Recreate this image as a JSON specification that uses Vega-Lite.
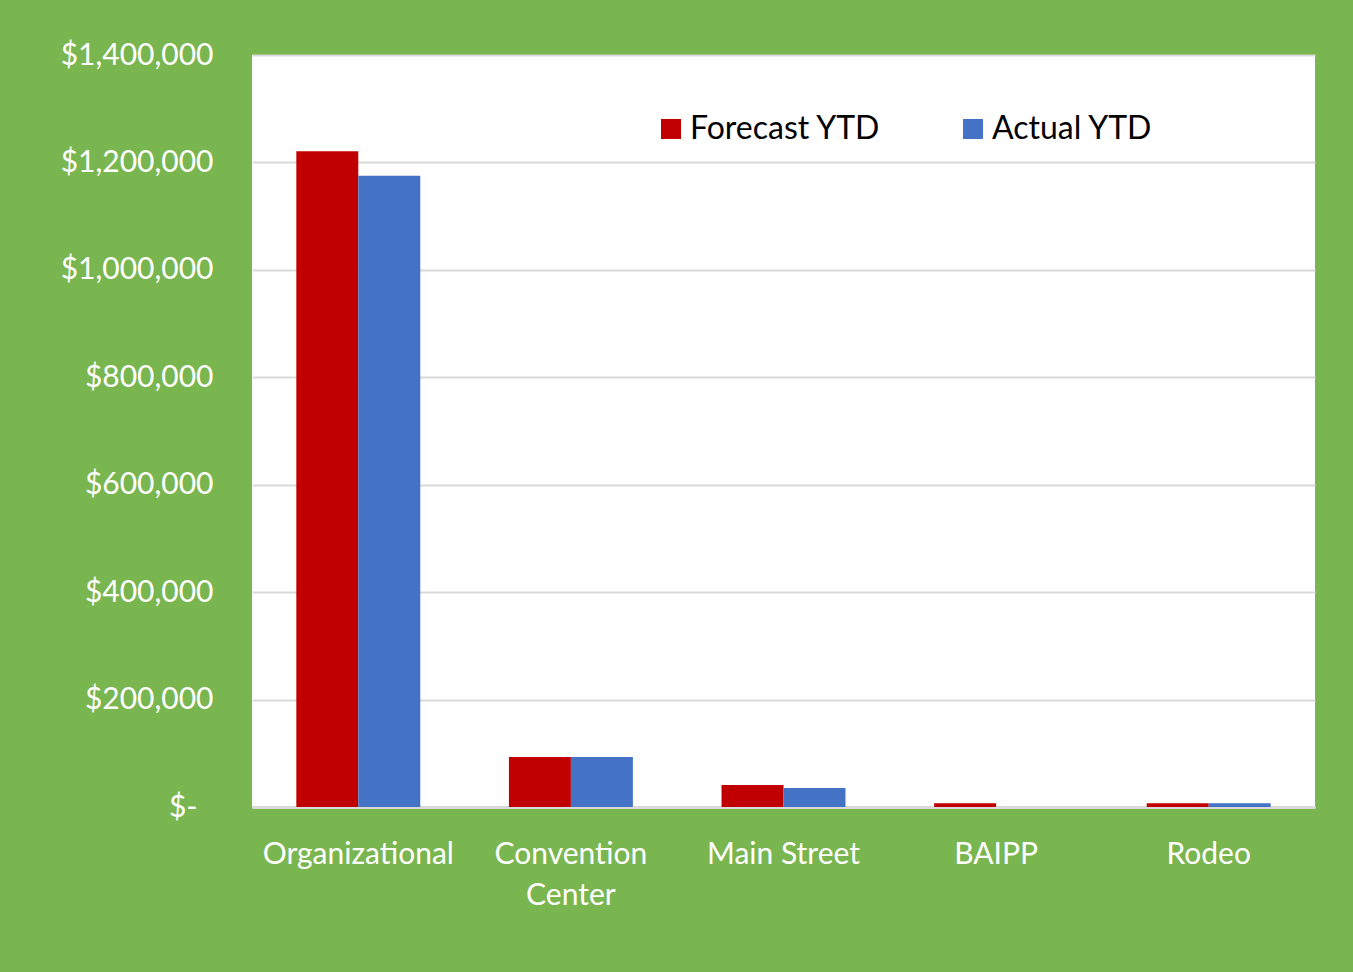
{
  "$schema": "https://vega.github.io/schema/vega-lite/v6.json",
  "width": 1063,
  "height": 752,
  "autosize": {"type": "none"},
  "padding": {"left": 252, "top": 55, "right": 38, "bottom": 165},
  "background": "#7AB64F",
  "config": {
    "view": {"fill": "white", "stroke": null},
    "font": "Lato"
  },
  "data": {
    "values": [
      {"category": "Organizational", "series": "Forecast YTD", "value": 1221000},
      {"category": "Organizational", "series": "Actual YTD", "value": 1175000},
      {"category": "Convention Center", "series": "Forecast YTD", "value": 93000},
      {"category": "Convention Center", "series": "Actual YTD", "value": 93000},
      {"category": "Main Street", "series": "Forecast YTD", "value": 41000},
      {"category": "Main Street", "series": "Actual YTD", "value": 35500},
      {"category": "BAIPP", "series": "Forecast YTD", "value": 7000},
      {"category": "BAIPP", "series": "Actual YTD", "value": 0},
      {"category": "Rodeo", "series": "Forecast YTD", "value": 7000},
      {"category": "Rodeo", "series": "Actual YTD", "value": 7000}
    ]
  },
  "mark": {"type": "bar"},
  "encoding": {
    "x": {
      "field": "category",
      "type": "nominal",
      "sort": ["Organizational", "Convention Center", "Main Street", "BAIPP", "Rodeo"],
      "scale": {"paddingInner": 0.417, "paddingOuter": 0.2085},
      "axis": {
        "title": null,
        "labelAngle": 0,
        "labelColor": "white",
        "labelFontSize": 30,
        "labelPadding": 32,
        "labelLineHeight": 41,
        "labelLimit": 400,
        "labelExpr": "datum.label == 'Convention Center' ? ['Convention', 'Center'] : datum.label",
        "ticks": false,
        "domain": true,
        "domainColor": "#D9D9D9",
        "domainWidth": 3
      }
    },
    "xOffset": {
      "field": "series",
      "sort": ["Forecast YTD", "Actual YTD"],
      "scale": {"paddingInner": 0, "paddingOuter": 0}
    },
    "y": {
      "field": "value",
      "type": "quantitative",
      "scale": {"domain": [0, 1400000], "nice": false},
      "axis": {
        "title": null,
        "values": [0, 200000, 400000, 600000, 800000, 1000000, 1200000, 1400000],
        "grid": true,
        "gridColor": "#D9D9D9",
        "gridWidth": 2,
        "domain": false,
        "ticks": false,
        "labelColor": "white",
        "labelFontSize": 30,
        "labelPadding": {"condition": {"test": "datum.value == 0", "value": 55}, "value": 39},
        "labelExpr": "datum.value == 0 ? '$-' : '$' + format(datum.value, ',')"
      }
    },
    "color": {
      "field": "series",
      "type": "nominal",
      "sort": ["Forecast YTD", "Actual YTD"],
      "scale": {"domain": ["Forecast YTD", "Actual YTD"], "range": ["#C00000", "#4472C4"]},
      "legend": {
        "title": null,
        "orient": "none",
        "direction": "horizontal",
        "legendX": 403,
        "legendY": 58,
        "symbolType": "square",
        "symbolSize": 400,
        "symbolStrokeWidth": 0,
        "labelFontSize": 32,
        "labelLimit": 400,
        "labelColor": "#000000",
        "labelOffset": 3,
        "columnPadding": 76
      }
    }
  }
}
